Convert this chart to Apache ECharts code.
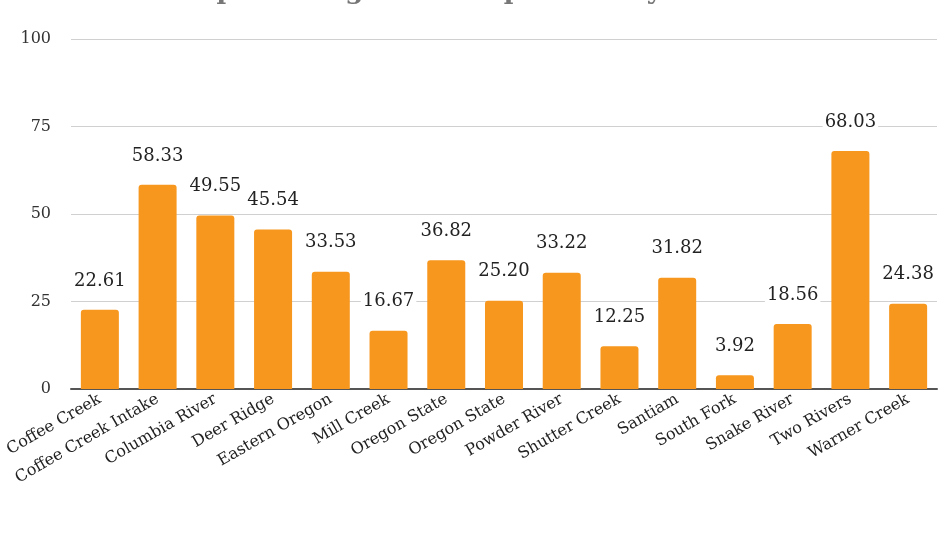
<!DOCTYPE html>
<html>
<head>
<meta charset="utf-8">
<script src="https://cdn.jsdelivr.net/npm/echarts@6/dist/echarts.min.js"></script>
<style>html,body{margin:0;padding:0;background:#fff}#c{width:944px;height:541px}</style>
</head>
<body>
<div id="c"></div>
<script>
const titleText = "Total sales as percentage of total per facility";
const categories = ["Coffee Creek","Coffee Creek Intake","Columbia River","Deer Ridge","Eastern Oregon","Mill Creek","Oregon State","Oregon State","Powder River","Shutter Creek","Santiam","South Fork","Snake River","Two Rivers","Warner Creek"];
const values = [22.61,58.33,49.55,45.54,33.53,16.67,36.82,25.20,33.22,12.25,31.82,3.92,18.56,68.03,24.38];
const yTicks = [0,25,50,75,100];

const font = "'DejaVu Serif', 'Liberation Serif', serif";
const chart = echarts.init(document.getElementById('c'));
chart.setOption({
  animation: false,
  title: {
    text: titleText, left: 8, top: -26,
    textStyle: {fontFamily: font, fontSize: 26, fontWeight: 'bold', color: '#777'}
  },
  grid: {left: 71, right: 7, top: 39, bottom: 152, containLabel: false, outerBoundsMode: 'none'},
  xAxis: {
    type: 'category', data: categories,
    axisTick: {show: false},
    axisLine: {lineStyle: {color: '#555', width: 2}},
    axisLabel: {rotate: 30, interval: 0, margin: 9, fontFamily: font, fontSize: 16, color: '#222'}
  },
  yAxis: {
    type: 'value', min: yTicks[0], max: yTicks[yTicks.length-1], interval: 25,
    axisLine: {show: false}, axisTick: {show: false},
    splitLine: {lineStyle: {color: '#d0d0d0', width: 1}},
    axisLabel: {margin: 20, fontFamily: font, fontSize: 16, color: '#333'}
  },
  series: [{
    type: 'bar', data: values, barWidth: 38,
    itemStyle: {color: '#F7971E', borderRadius: [3,3,0,0]},
    label: {
      show: true, position: 'top', distance: 19,
      formatter: p => p.value.toFixed(2),
      fontFamily: font, fontSize: 18, color: '#222',
      backgroundColor: '#fff', padding: [1,2]
    }
  }]
});
</script>
</body>
</html>
